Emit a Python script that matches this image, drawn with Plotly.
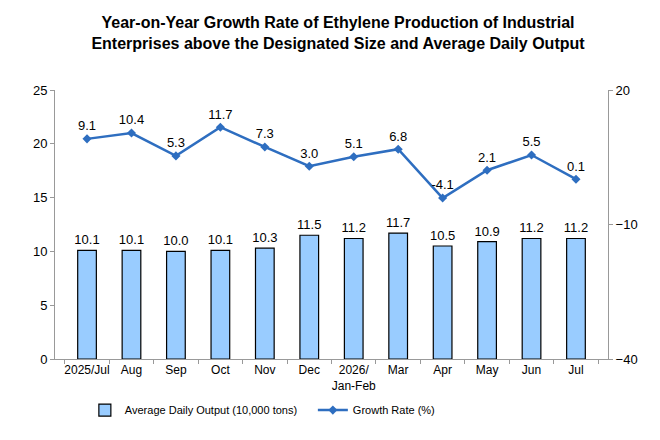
import plotly.graph_objects as go

# months shown on the x axis
months = ["2025/Jul", "Aug", "Sep", "Oct", "Nov", "Dec", "2026/<br>Jan-Feb",
          "Mar", "Apr", "May", "Jun", "Jul"]
# average daily output, 10,000 tons
output = [10.1, 10.1, 10.0, 10.1, 10.3, 11.5, 11.2, 11.7, 10.5, 10.9, 11.2, 11.2]
# year-on-year growth rate, %
growth = [9.1, 10.4, 5.3, 11.7, 7.3, 3.0, 5.1, 6.8, -4.1, 2.1, 5.5, 0.1]

font = "Liberation Sans, Arial, sans-serif"

fig = go.Figure()
fig.add_trace(go.Bar(
    x=months, y=output, name="Average Daily Output (10,000 tons)",
    marker=dict(color="#99CCFF", line=dict(color="#000000", width=1.2)),
    text=[f"{v:.1f}" for v in output], textposition="outside",
    constraintext="none",
    textfont=dict(size=13, color="#000000"), cliponaxis=False,
))
fig.add_trace(go.Scatter(
    x=months, y=growth, name="Growth Rate (%)", yaxis="y2",
    mode="lines+markers+text",
    line=dict(color="#2E6EC0", width=2.5),
    marker=dict(symbol="diamond", size=7, color="#2E6EC0"),
    text=[f"{v:.1f}" for v in growth], textposition="top center",
    textfont=dict(size=13, color="#000000"), cliponaxis=False,
))

# the page body adds an 8px offset, so margins are shifted to compensate
fig.update_layout(
    width=660, height=440,
    margin=dict(l=47, r=60, t=82, b=89),
    paper_bgcolor="white", plot_bgcolor="white",
    font=dict(family=font, size=12, color="#000000"),
    title=dict(
        text="<b>Year-on-Year Growth Rate of Ethylene Production of Industrial<br>"
             "Enterprises above the Designated Size and Average Daily Output</b>",
        x=0.5, xanchor="center", y=0.955, yanchor="top",
        font=dict(size=16, family=font),
    ),
    bargap=0.58,
    showlegend=True,
    legend=dict(orientation="h", x=0.054, xanchor="left", y=-0.19, yanchor="middle",
                font=dict(size=11), traceorder="normal",
                entrywidth=183, entrywidthmode="pixels"),
    xaxis=dict(
        showline=True, linecolor="#999999", linewidth=1, tickangle=0,
        ticks="outside", tickson="boundaries", ticklen=4, tickcolor="#999999",
        tickfont=dict(size=12), showgrid=False, automargin=False,
    ),
    yaxis=dict(
        range=[0, 25], dtick=5, showline=True, linecolor="#999999", linewidth=1,
        ticks="outside", ticklen=4, tickcolor="#999999", showgrid=False,
        zeroline=False, tickfont=dict(size=13), automargin=False,
    ),
    yaxis2=dict(
        range=[-40, 20], tickvals=[-40, -10, 20], overlaying="y", side="right",
        showline=True, linecolor="#999999", linewidth=1,
        ticks="outside", ticklen=4, tickcolor="#999999", showgrid=False,
        zeroline=False, tickfont=dict(size=13), automargin=False,
    ),
)

fig.write_html("out.html")
